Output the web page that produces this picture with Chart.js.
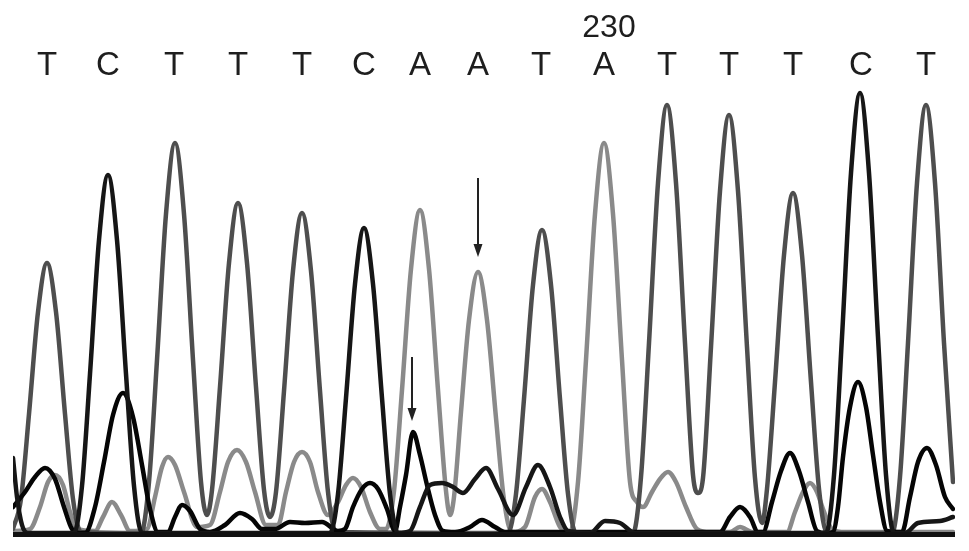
<!DOCTYPE html>
<html>
<head>
<meta charset="utf-8">
<script src="https://cdn.jsdelivr.net/npm/chart.js@4/dist/chart.umd.min.js"></script>
<style>
html,body{margin:0;padding:0;background:#fff;}
#wrap{width:969px;height:551px;}
canvas{display:block;}
</style>
</head>
<body>
<div id="wrap"><canvas id="c" width="969" height="551"></canvas></div>
<script>
// Base calls and their scan positions
const bases = ['T','C','T','T','T','C','A','A','T','A','T','T','T','C','T'];
const basePos = [47,108,174,238,302,364,420,478,541,604,667,729,793,861,926];
const positionLabel = '230';
const positionLabelAt = 609;

// Arrows (scan position, from intensity, to intensity)
const arrows = [
  {x: 478, from: 359, to: 280},
  {x: 412, from: 180, to: 116}
];

// Trace T  [scan, intensity]
const traceT = [[13,8],[21,38],[29,123],[38,225],[47,274],[56,225],[65,123],[73,38],[81,5],[141,4],[149,55],[157,177],[166,323],[175,394],[184,323],[193,177],[201,55],[207,22],[212,47],[220,150],[229,274],[238,334],[247,274],[256,150],[264,47],[270,20],[276,45],[284,146],[293,266],[302,324],[311,266],[320,146],[328,45],[336,5],[508,4],[516,43],[524,138],[533,252],[542,307],[551,252],[560,138],[568,43],[576,4],[633,4],[641,60],[649,194],[658,354],[667,432],[676,354],[685,194],[693,62],[698,44],[703,59],[711,190],[720,346],[729,422],[738,346],[747,190],[755,59],[762,14],[767,48],[775,155],[784,282],[793,344],[802,282],[811,155],[819,48],[827,4],[892,4],[900,60],[908,194],[917,354],[926,432],[935,354],[944,194],[953,55]];

// Trace C
const traceC = [[13,79],[17,40],[22,12],[28,4],[74,4],[82,51],[90,163],[99,297],[108,362],[117,297],[126,163],[134,51],[142,4],[330,4],[338,43],[346,139],[355,253],[364,309],[373,253],[382,139],[390,43],[398,4],[410,6],[420,30],[430,52],[442,54],[453,50],[463,44],[475,58],[486,69],[498,48],[513,22],[526,50],[538,72],[550,50],[560,20],[568,6],[590,4],[605,16],[620,14],[635,4],[826,4],[834,62],[842,200],[851,364],[860,444],[869,364],[878,200],[886,62],[894,4],[905,4],[918,14],[940,16],[953,20]];

// Trace G
const traceG = [[13,30],[25,45],[35,60],[45,69],[55,58],[64,30],[72,8],[80,4],[85,4],[95,30],[104,75],[113,122],[123,144],[133,120],[142,72],[150,28],[158,5],[168,5],[175,20],[182,32],[190,26],[200,8],[210,5],[225,12],[240,24],[252,18],[262,8],[275,8],[290,15],[305,14],[322,15],[338,6],[345,8],[353,30],[362,48],[370,54],[378,48],[387,28],[395,6],[400,30],[406,62],[413,105],[420,82],[427,52],[435,22],[443,6],[455,5],[470,10],[482,17],[495,10],[505,5],[720,5],[730,20],[740,30],[750,20],[758,5],[763,5],[772,35],[781,66],[790,84],[799,66],[808,35],[817,6],[826,4],[833,5],[838,30],[843,80],[850,130],[858,155],[866,130],[873,82],[880,35],[887,6],[902,5],[910,40],[918,75],[927,89],[936,72],[945,40],[953,28]];

// Trace A
const traceA = [[13,6],[30,8],[40,30],[48,55],[55,62],[63,52],[70,25],[77,8],[95,6],[103,20],[112,35],[121,22],[130,6],[147,8],[155,40],[162,70],[168,80],[175,72],[184,45],[197,10],[210,12],[220,45],[228,75],[237,87],[246,75],[255,45],[266,12],[278,12],[286,45],[294,75],[302,85],[310,75],[318,45],[328,22],[338,35],[346,52],[353,59],[361,50],[370,25],[380,8],[386,8],[394,46],[402,147],[411,268],[420,327],[429,268],[438,147],[446,46],[450,22],[454,40],[461,125],[469,217],[478,265],[487,217],[496,119],[504,37],[512,5],[525,10],[535,40],[542,48],[550,35],[560,10],[570,5],[578,55],[586,177],[595,323],[604,394],[613,323],[622,177],[630,55],[637,35],[643,30],[652,45],[660,58],[668,65],[676,55],[686,30],[697,8],[710,5],[730,5],[740,10],[752,5],[787,5],[795,25],[803,45],[810,54],[817,45],[823,28],[832,8],[845,5],[953,5]];

const toXY = a => a.map(p => ({x: p[0], y: p[1]}));

const labelsPlugin = {
  id: 'labels',
  afterDraw(chart) {
    const ctx = chart.ctx;
    const xs = chart.scales.x, ys = chart.scales.y;
    ctx.save();
    // baseline
    ctx.strokeStyle = '#111';
    ctx.lineWidth = 5;
    ctx.beginPath();
    const by = ys.getPixelForValue(0) - 2.5;
    ctx.moveTo(xs.getPixelForValue(xs.min), by);
    ctx.lineTo(xs.getPixelForValue(xs.max), by);
    ctx.stroke();
    // base letters
    ctx.fillStyle = '#1e1e1e';
    ctx.textAlign = 'center';
    ctx.textBaseline = 'alphabetic';
    ctx.font = '33px "Liberation Sans", Arial, sans-serif';
    bases.forEach((b, i) => ctx.fillText(b, xs.getPixelForValue(basePos[i]), 75));
    ctx.font = '32px "Liberation Sans", Arial, sans-serif';
    ctx.fillText(positionLabel, xs.getPixelForValue(positionLabelAt), 37);
    // arrows
    ctx.strokeStyle = '#222';
    ctx.fillStyle = '#222';
    ctx.lineWidth = 2;
    arrows.forEach(a => {
      const x = xs.getPixelForValue(a.x);
      const y0 = ys.getPixelForValue(a.from);
      const y1 = ys.getPixelForValue(a.to);
      ctx.beginPath();
      ctx.moveTo(x, y0);
      ctx.lineTo(x, y1 - 10);
      ctx.stroke();
      ctx.beginPath();
      ctx.moveTo(x - 4.5, y1 - 13);
      ctx.lineTo(x + 4.5, y1 - 13);
      ctx.lineTo(x, y1);
      ctx.closePath();
      ctx.fill();
    });
    ctx.restore();
  }
};

const mk = (label, data, color, order) => ({
  label, data: toXY(data), borderColor: color, borderWidth: 4.5,
  pointRadius: 0, fill: false, order, cubicInterpolationMode: 'monotone'
});

new Chart(document.getElementById('c'), {
  type: 'line',
  data: {
    datasets: [
      mk('C', traceC, '#161616', 1),
      mk('G', traceG, '#050505', 2),
      mk('T', traceT, '#4e4e4e', 3),
      mk('A', traceA, '#8a8a8a', 4)
    ]
  },
  options: {
    responsive: false,
    animation: false,
    layout: {padding: {left: 13, right: 14, top: 0, bottom: 14}},
    plugins: {legend: {display: false}, tooltip: {enabled: false}},
    elements: {line: {borderJoinStyle: 'round', borderCapStyle: 'round'}},
    scales: {
      x: {type: 'linear', min: 13, max: 955, display: false},
      y: {min: 0, max: 537, display: false}
    }
  },
  plugins: [labelsPlugin]
});
</script>
</body>
</html>
